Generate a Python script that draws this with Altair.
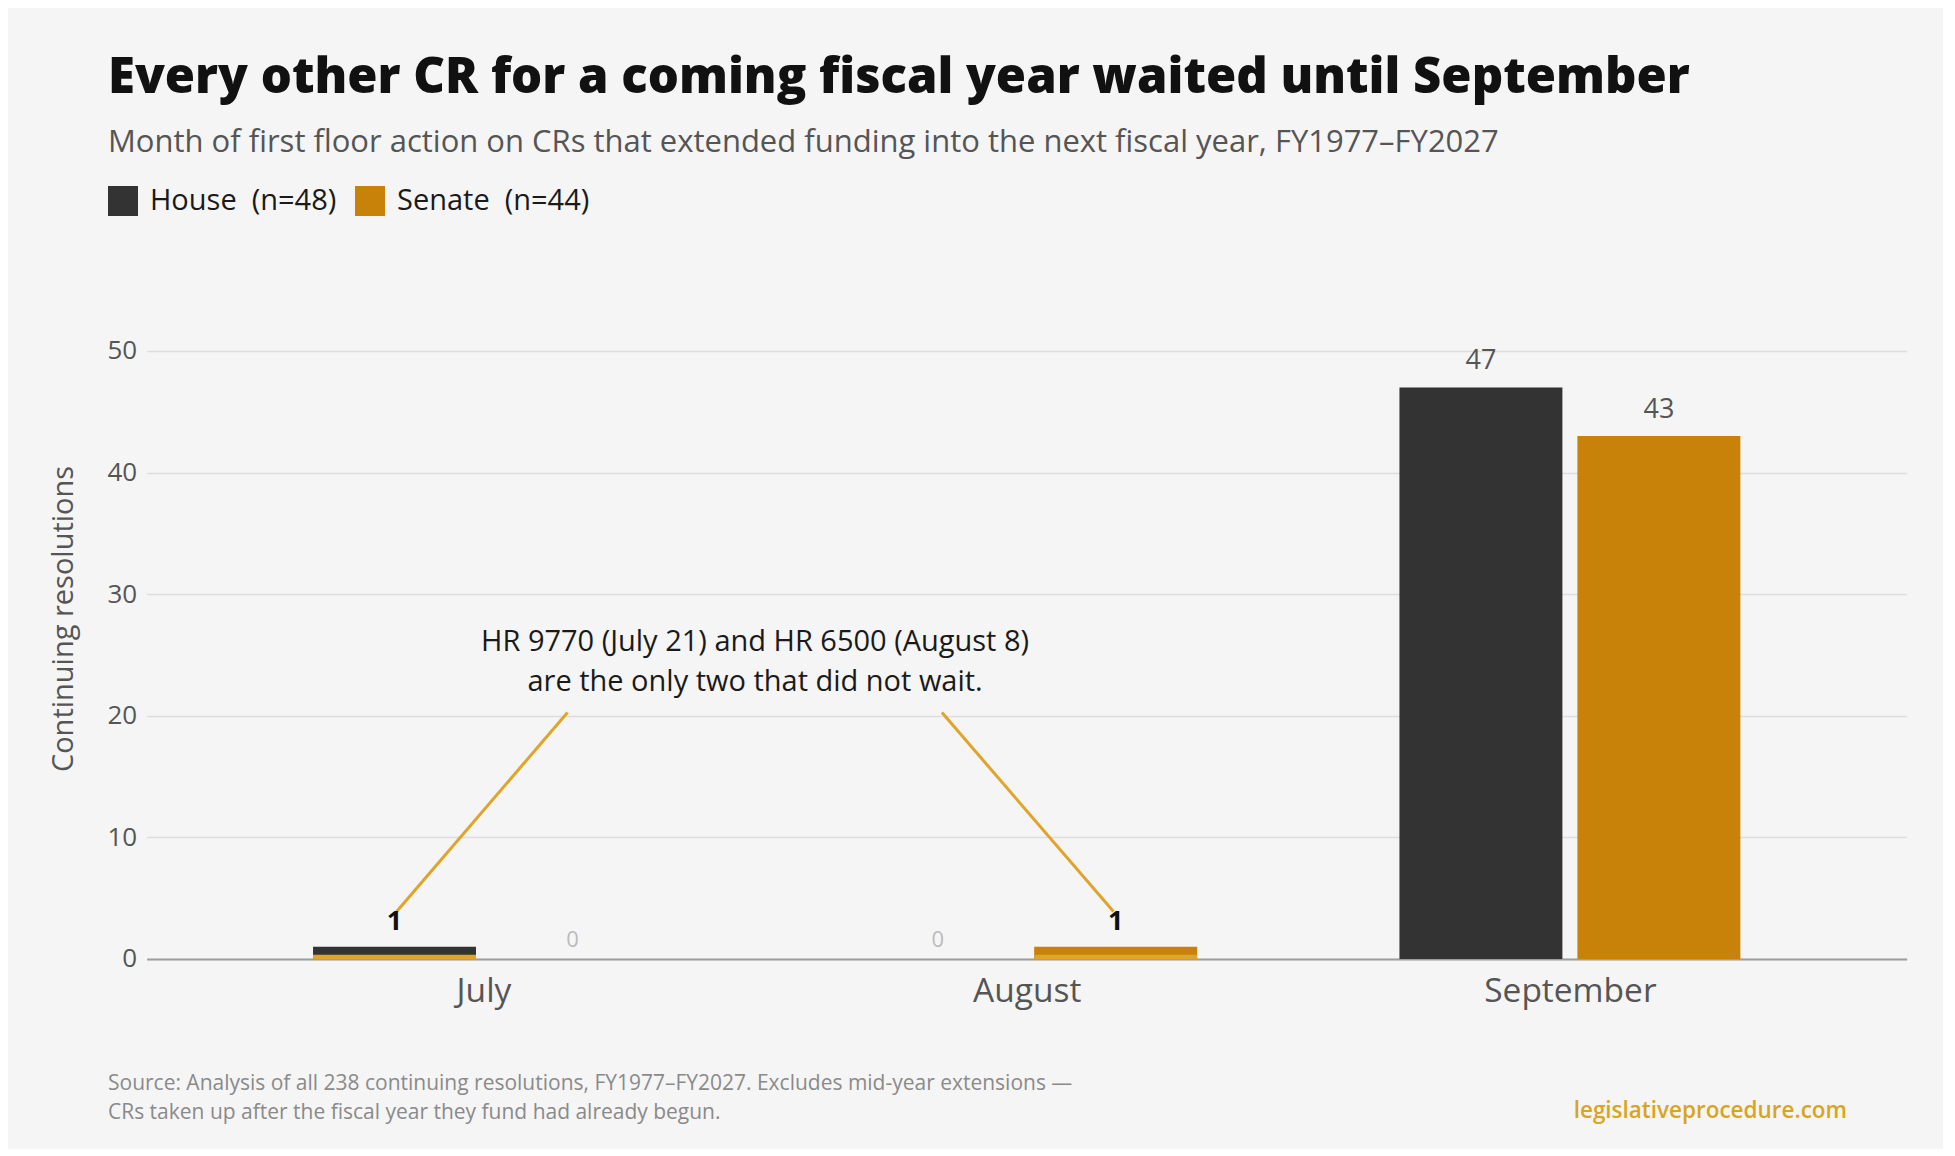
import json
import altair as alt
import pandas as pd

# ---------------- data ----------------
months = ["July", "August", "September"]
house = [1, 0, 47]
senate = [0, 1, 43]
house_n = 48
senate_n = 44
highlighted = [("July", "House"), ("August", "Senate")]

title_text = "Every other CR for a coming fiscal year waited until September"
subtitle_text = ("Month of first floor action on CRs that extended funding into the next "
                 "fiscal year, FY1977\u2013FY2027")
annotation_lines = ["HR 9770 (July 21) and HR 6500 (August 8)",
                    "are the only two that did not wait."]
source_lines = ["Source: Analysis of all 238 continuing resolutions, FY1977\u2013FY2027. "
                "Excludes mid-year extensions \u2014",
                "CRs taken up after the fiscal year they fund had already begun."]
credit = "legislativeprocedure.com"

# ---------------- style ----------------
BG = "#f5f5f5"
C_HOUSE = "#333333"
C_SENATE = "#c8820a"
GOLD = "#e0a42a"
FONT = "Open Sans"
NUMFONT = "Open Sans"
BAR_W = 0.300      # bar width in category steps
HALF_GAP = 0.0138  # half gap between paired bars
STRIP = 0.35       # highlight strip height (units)

W, H = 1760, 681
PAD_L, PAD_T = 138.7, 270

rows = []
for i, m in enumerate(months):
    for ch, vals, side in (("House", house, -1), ("Senate", senate, 1)):
        if side < 0:
            x0, x1 = i - HALF_GAP - BAR_W, i - HALF_GAP
        else:
            x0, x1 = i + HALF_GAP, i + HALF_GAP + BAR_W
        rows.append(dict(month=m, idx=i, chamber=ch, value=vals[i],
                         x0=x0, x1=x1, xc=(x0 + x1) / 2,
                         hl=(m, ch) in highlighted))
df = pd.DataFrame(rows)

# annotation anchor (data units): text centred between July and August
ann_df = pd.DataFrame([dict(x=0.5, y=26.06, t="\n".join(annotation_lines))])
centers = {(r["month"], r["chamber"]): r["xc"] for r in rows}
lines_df = pd.DataFrame([
    dict(x=0.1547, y=20.27, x2=centers[highlighted[0]] + 0.004, y2=3.9),
    dict(x=0.844, y=20.27, x2=centers[highlighted[1]] - 0.004, y2=3.9),
])
foot_df = pd.DataFrame([dict(t="\n".join(source_lines), c=credit)])

label_expr = "%s[datum.value]" % json.dumps(months)
legend_expr = ("datum.label == 'House' ? 'House\u00a0 (n=%d)' : 'Senate\u00a0 (n=%d)'"
               % (house_n, senate_n))

xscale = alt.Scale(domain=[-0.62, 2.62], nice=False, zero=False)
yscale = alt.Scale(domain=[0, 56], nice=False)
YT = "Continuing resolutions"

base = alt.Chart(df)

bars = base.mark_rect().encode(
    x=alt.X("x0:Q", scale=xscale, title=None,
            axis=alt.Axis(values=[0, 1, 2], labelExpr=label_expr)),
    x2="x1:Q",
    y=alt.Y("value:Q", scale=yscale, title=YT,
            axis=alt.Axis(values=[0, 10, 20, 30, 40, 50])),
    y2=alt.datum(0),
    color=alt.Color("chamber:N",
                    scale=alt.Scale(domain=["House", "Senate"], range=[C_HOUSE, C_SENATE]),
                    legend=alt.Legend(title=None, orient="none", legendX=-38.7, legendY=-92,
                                      direction="horizontal", symbolType="square",
                                      symbolSize=900, symbolStrokeWidth=0,
                                      labelFontSize=29, labelFont=FONT, labelColor="#1a1a1a",
                                      labelOffset=12, columnPadding=18, padding=0,
                                      labelLimit=400, labelExpr=legend_expr)),
)

strip = base.transform_filter("datum.hl").mark_rect(color=GOLD).encode(
    x=alt.X("x0:Q", scale=xscale, title=None), x2="x1:Q",
    y=alt.datum(0, scale=yscale, title=YT), y2=alt.datum(STRIP),
)

lab_main = base.transform_filter("datum.value > 0 && !datum.hl").mark_text(
    dy=-18, baseline="alphabetic", fontSize=27, font=NUMFONT, color="#555555"
).encode(x=alt.X("xc:Q", scale=xscale, title=None),
         y=alt.Y("value:Q", scale=yscale, title=YT), text="value:Q")

lab_hl = base.transform_filter("datum.hl").mark_text(
    dy=-17, baseline="alphabetic", fontSize=27, font=NUMFONT, fontWeight="bold", color="#111111"
).encode(x=alt.X("xc:Q", scale=xscale, title=None),
         y=alt.Y("value:Q", scale=yscale, title=YT), text="value:Q")

lab_zero = base.transform_filter("datum.value == 0").mark_text(
    dy=-12, baseline="alphabetic", fontSize=22, font=NUMFONT, color="#bbbbbb"
).encode(x=alt.X("xc:Q", scale=xscale, title=None),
         y=alt.Y("value:Q", scale=yscale, title=YT), text="value:Q")

rules = alt.Chart(lines_df).mark_rule(color=GOLD, strokeWidth=3).encode(
    x=alt.X("x:Q", scale=xscale, title=None), x2="x2:Q",
    y=alt.Y("y:Q", scale=yscale, title=YT), y2="y2:Q",
)

ann = alt.Chart(ann_df).mark_text(
    lineBreak="\n", align="center", baseline="middle", fontSize=29, lineHeight=40,
    font=FONT, color="#1a1a1a"
).encode(x=alt.X("x:Q", scale=xscale, title=None),
         y=alt.Y("y:Q", scale=yscale, title=YT), text="t:N")

src = alt.Chart(foot_df).mark_text(
    lineBreak="\n", align="left", baseline="middle", fontSize=21, lineHeight=29,
    font=FONT, color="#8a8a8a"
).encode(x=alt.value(108 - 146.7), y=alt.value(1084 - 278), text="t:N")

cred = alt.Chart(foot_df).mark_text(
    align="right", baseline="middle", fontSize=22.5, font=FONT, fontWeight=600, color="#d9a520"
).encode(x=alt.value(1847 - 146.7), y=alt.value(1111 - 278), text="c:N")

chart = alt.layer(bars, strip, rules, lab_main, lab_hl, lab_zero, ann, src, cred).properties(
    width=W, height=H,
    autosize=alt.AutoSizeParams(type="none"),
    padding={"left": PAD_L, "top": PAD_T, "right": 36, "bottom": 190},
    background=BG,
    title=alt.TitleParams(
        text=title_text, subtitle=subtitle_text, anchor="start", frame="group",
        dx=-38.7, offset=28, font=FONT, fontSize=49, fontWeight=800, color="#111111",
        subtitleFont=FONT, subtitleFontSize=31, subtitleColor="#555555",
        subtitleFontWeight=400, subtitlePadding=25,
    ),
).configure_view(stroke=None).configure_axisX(
    grid=False, ticks=False, domainColor="#9e9e9e", domainWidth=2,
    labelFontSize=33.5, labelColor="#555555", labelFont=FONT, labelPadding=17,
).configure_axisY(
    grid=True, gridColor="#dddddd", gridWidth=1.5, ticks=False, domain=False,
    labelFontSize=26, labelColor="#555555", labelFont=NUMFONT, labelPadding=10,
    titleFontSize=29, titleColor="#555555", titleFont=FONT, titleFontWeight=400,
    titlePadding=28,
)

chart.save("out.html", embed_options={"renderer": "svg", "actions": False})
